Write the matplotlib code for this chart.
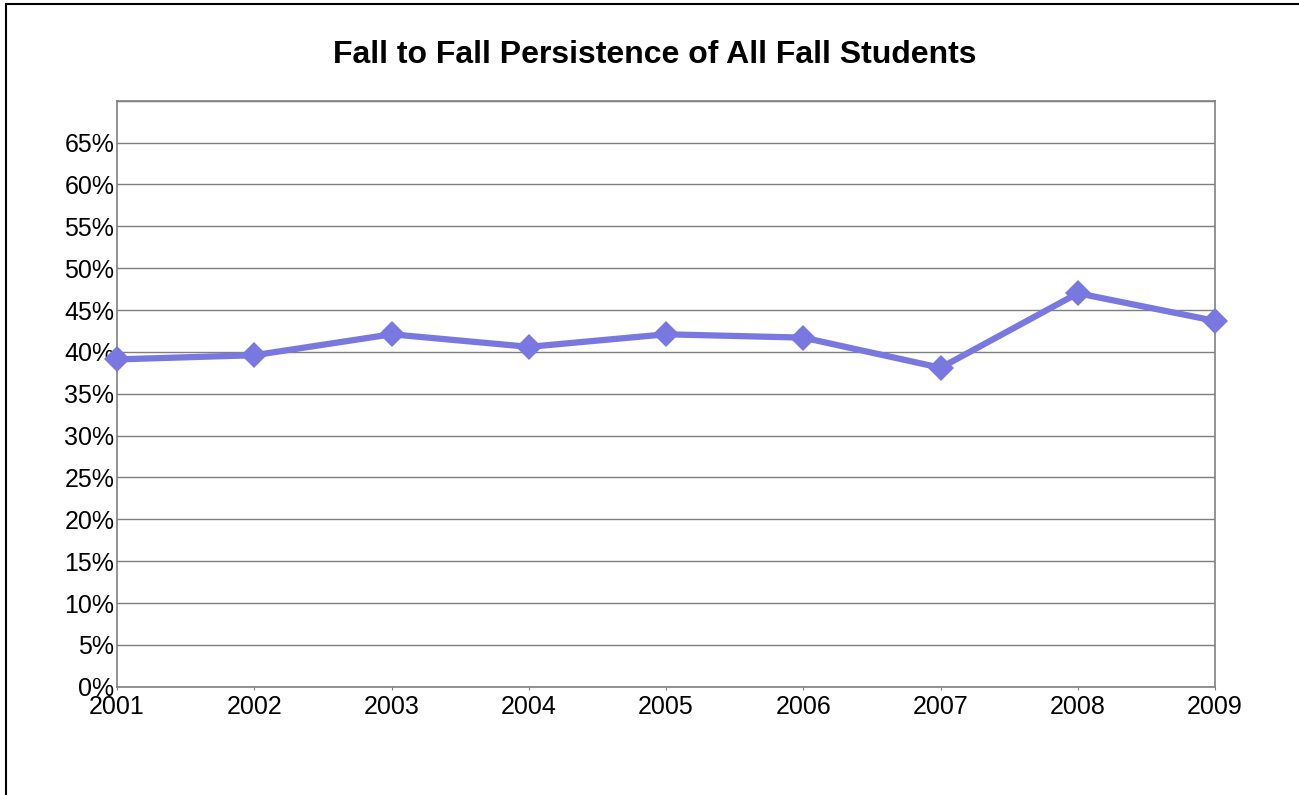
import matplotlib
matplotlib.use("Agg")
import matplotlib.pyplot as plt
from matplotlib.lines import Line2D
from matplotlib.ticker import FuncFormatter, MultipleLocator

plt.rcParams['font.family'] = ['Liberation Sans', 'DejaVu Sans']

years = ['2001', '2002', '2003', '2004', '2005', '2006', '2007', '2008', '2009']
persistence = [39.1, 39.6, 42.1, 40.6, 42.1, 41.7, 38.1, 47.0, 43.7]

fig = plt.figure(figsize=(12.99, 7.95), dpi=100)
ax = fig.add_axes([0.0901, 0.1362, 0.8453, 0.7371])

x = list(range(len(years)))
ax.plot(x, persistence, color='#7878e0', linewidth=4.5, marker='D',
        markersize=13, markeredgewidth=0, zorder=3, clip_on=False)

ax.set_xlim(0, len(years) - 1)
ax.set_ylim(0, 70)
ax.set_xticks(x)
ax.set_xticklabels(years)
ax.yaxis.set_major_locator(MultipleLocator(5))
ax.yaxis.set_major_formatter(FuncFormatter(lambda v, p: '' if v >= 70 else '%d%%' % v))
ax.grid(axis='y', color='#7f7f7f', linewidth=1.0)
ax.set_axisbelow(True)
for s in ax.spines.values():
    s.set_color('#808080')
    s.set_linewidth(1.2)
ax.tick_params(axis='y', length=0, pad=2, labelsize=18)
ax.tick_params(axis='x', length=2, color='#808080', pad=4, labelsize=18)

fig.text(0.504, 0.931, 'Fall to Fall Persistence of All Fall Students',
         ha='center', va='center', fontsize=23, fontweight='bold')

# outer chart border (only left and top visible)
fig.add_artist(Line2D([6 / 1299, 6 / 1299], [0, 1 - 4 / 795], color='black', linewidth=1.5))
fig.add_artist(Line2D([6 / 1299, 1], [1 - 4 / 795, 1 - 4 / 795], color='black', linewidth=1.5))

fig.savefig('out.png', dpi=100)
